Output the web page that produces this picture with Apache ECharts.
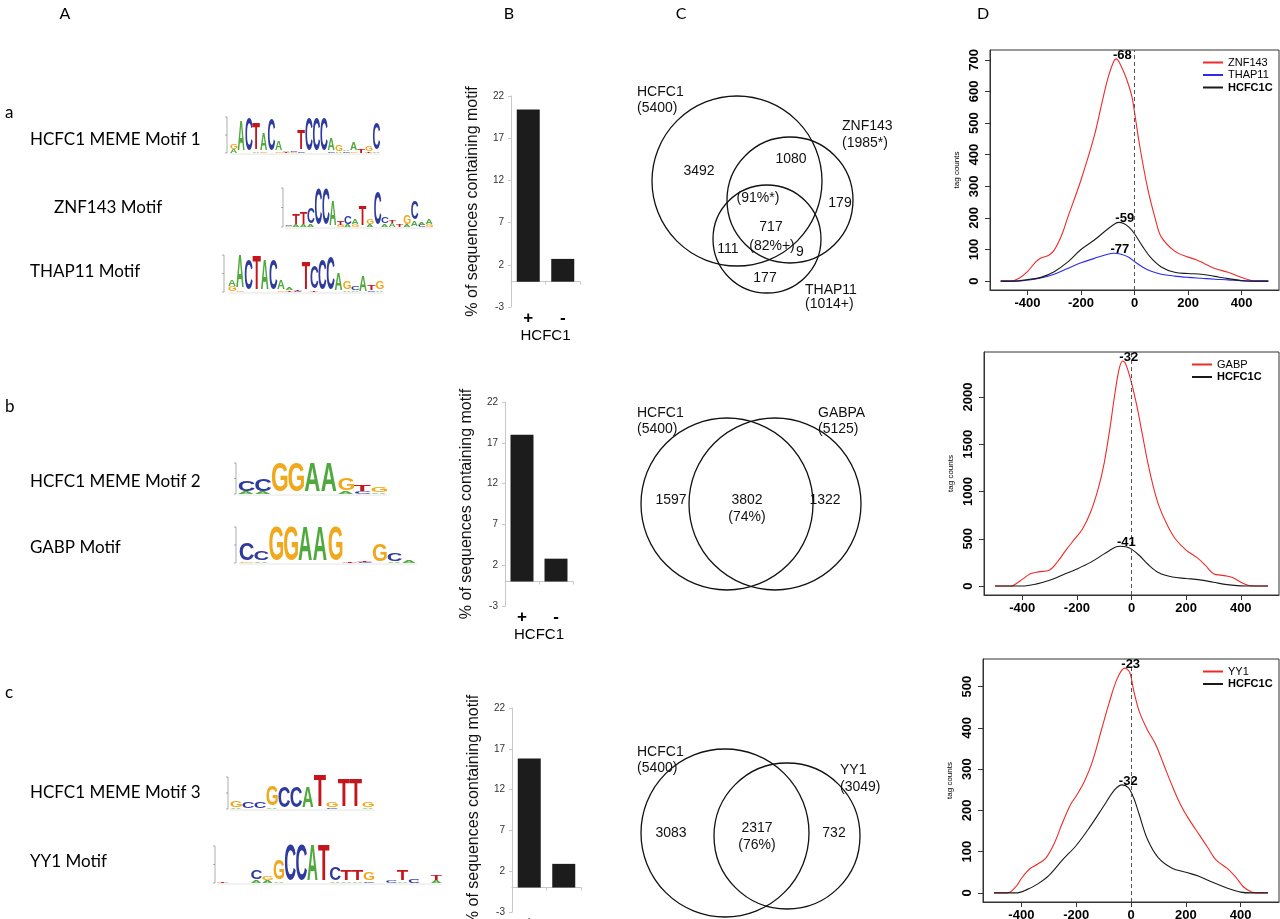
<!DOCTYPE html>
<html>
<head>
<meta charset="utf-8">
<script src="https://cdn.jsdelivr.net/npm/echarts@6/dist/echarts.min.js"></script>
<style>
html, body { margin: 0; padding: 0; background: #fff; }
#main { width: 1280px; height: 919px; }
</style>
</head>
<body>
<div id="main"></div>
<script>
// ---------- data ----------
// B: % of sequences containing motif, HCFC1 + / -
const barCats = ['+', '-'];
const barA = [20.4, 2.7];
const barB = [18.0, 2.8];
const barC = [15.8, 2.9];
const barTicks = [-3, 2, 7, 12, 17, 22];

// C: venn texts
const vennATexts = ['HCFC1', '(5400)', 'ZNF143', '(1985*)', 'THAP11', '(1014+)',
  '3492', '1080', '179', '(91%*)', '717', '(82%+)', '111', '9', '177'];
const vennBTexts = ['HCFC1', '(5400)', 'GABPA', '(5125)', '1597', '3802', '(74%)', '1322'];
const vennCTexts = ['HCFC1', '(5400)', 'YY1', '(3049)', '3083', '2317', '(76%)', '732'];

// D: tag count profiles, [position, tag counts]
const xTicks = [-400, -200, 0, 200, 400];
const ticksDA = [0, 100, 200, 300, 400, 500, 600, 700];
const ticksDB = [0, 500, 1000, 1500, 2000];
const ticksDC = [0, 100, 200, 300, 400, 500];

const znf143 = [[-500,0],[-460,0],[-430,10],[-400,30],[-370,60],[-350,73],[-320,82],[-300,98],[-270,150],[-250,200],[-200,320],[-150,460],[-120,570],[-100,640],[-80,690],[-68,703],[-50,680],[-30,640],[-10,585],[0,535],[20,425],[50,290],[80,190],[100,140],[150,95],[200,76],[230,68],[260,56],[300,40],[350,28],[380,18],[420,6],[450,0],[500,0]];
const thap11 = [[-500,0],[-450,0],[-400,3],[-350,10],[-300,22],[-250,40],[-200,58],[-150,72],[-100,85],[-77,88],[-50,85],[-20,75],[0,62],[30,45],[60,32],[100,22],[150,16],[200,12],[250,9],[300,6],[350,4],[400,1],[450,0],[500,0]];
const hcfcA = [[-500,0],[-450,0],[-400,5],[-350,12],[-300,30],[-250,60],[-200,100],[-150,130],[-100,165],[-70,183],[-59,186],[-40,182],[-20,170],[0,150],[30,110],[60,75],[100,45],[150,28],[200,24],[250,22],[300,15],[350,8],[400,2],[450,0],[500,0]];

const gabp = [[-500,0],[-440,0],[-420,30],[-400,70],[-370,130],[-340,150],[-300,170],[-270,260],[-240,380],[-210,490],[-180,600],[-150,780],[-120,1050],[-100,1300],[-80,1650],[-60,2050],[-45,2300],[-32,2380],[-20,2340],[0,2150],[20,1900],[40,1600],[60,1300],[80,1050],[100,850],[130,650],[160,500],[200,380],[240,300],[270,220],[300,130],[340,110],[370,90],[400,40],[430,5],[450,0],[500,0]];
const hcfcB = [[-500,0],[-400,0],[-350,20],[-300,60],[-250,120],[-200,180],[-150,250],[-100,340],[-60,410],[-41,420],[-20,415],[0,390],[30,320],[60,230],[100,140],[150,95],[200,80],[250,65],[300,40],[350,15],[400,2],[450,0],[500,0]];

const yy1 = [[-500,0],[-450,0],[-420,15],[-400,35],[-370,58],[-340,70],[-310,85],[-280,120],[-250,170],[-220,215],[-200,235],[-170,270],[-140,320],[-110,390],[-80,460],[-50,520],[-23,545],[-5,535],[10,490],[30,440],[60,395],[90,360],[120,310],[150,260],[180,215],[210,180],[250,140],[280,110],[310,80],[350,60],[380,40],[410,15],[440,2],[460,0],[500,0]];
const hcfcC = [[-500,0],[-420,0],[-380,8],[-340,22],[-300,42],[-250,80],[-200,115],[-150,160],[-100,210],[-60,250],[-32,262],[-10,255],[10,230],[30,190],[60,130],[100,85],[150,60],[200,50],[250,40],[300,25],[350,12],[400,2],[440,0],[500,0]];

// A: sequence logos, each column = [letter, bits] from bottom to top
const motif1 = [[['A',0.2],['G',0.3]],[['A',1.7]],[['C',1.85]],[['A',0.1],['T',1.5]],[['G',0.1],['A',1.0]],[['C',1.8]],[['G',0.1],['A',0.5]],[['T',0.05],['A',0.1]],[['G',0.05],['C',0.1]],[['C',0.1],['T',1.1]],[['C',1.9]],[['C',1.9]],[['C',1.85]],[['C',0.1],['A',0.65]],[['A',0.1],['G',0.35]],[['C',0.1],['A',0.1]],[['G',0.1],['A',0.45]],[['T',0.25]],[['T',0.1],['G',0.3]],[['A',0.1],['C',1.5]]];
const znfMotif = [[['G',0.05],['C',0.08]],[['A',0.1],['T',0.55]],[['A',0.1],['T',0.65]],[['A',0.15],['C',0.8]],[['C',1.85]],[['C',1.85]],[['A',1.3]],[['G',0.1],['T',0.2]],[['A',0.1],['C',0.4]],[['G',0.15],['A',0.25]],[['T',1.05]],[['A',0.1],['G',0.3]],[['C',1.75]],[['A',0.15],['C',0.35]],[['A',0.2],['T',0.15]],[['T',0.1]],[['A',0.1],['G',0.45]],[['A',0.3],['C',0.95]],[['C',0.1],['A',0.15]],[['G',0.1],['A',0.3]]];
const thapMotif = [[['G',0.3],['A',0.35]],[['G',0.1],['A',1.8]],[['C',1.7]],[['T',1.9]],[['A',1.7]],[['C',1.65]],[['G',0.1],['A',0.5]],[['T',0.08],['A',0.12]],[['C',0.06],['T',0.08]],[['T',1.55]],[['T',0.1],['C',1.2]],[['C',1.7]],[['C',1.8]],[['A',0.95]],[['A',0.1],['G',0.4]],[['A',0.1],['C',0.2]],[['A',0.85]],[['C',0.1],['T',0.3]],[['A',0.1],['G',0.45]]];
const motif2 = [[['A',0.15],['C',0.7]],[['A',0.15],['C',0.75]],[['G',1.9]],[['G',1.9]],[['A',1.9]],[['A',1.9]],[['A',0.2],['G',0.8]],[['C',0.15],['T',0.45]],[['A',0.1],['G',0.3]]];
const gabpMotif = [[['G',0.1],['C',0.95]],[['A',0.1],['C',0.5]],[['G',1.95]],[['G',1.95]],[['A',1.95]],[['A',1.95]],[['G',1.95]],[['T',0.08]],[['C',0.05],['T',0.08]],[['G',0.95]],[['A',0.05],['C',0.45]],[['A',0.15]]];
const motif3 = [[['A',0.1],['G',0.4]],[['C',0.45]],[['C',0.45]],[['A',0.1],['G',1.3]],[['C',1.35]],[['C',1.35]],[['A',1.35]],[['T',2.0]],[['C',0.1],['G',0.3]],[['T',1.8]],[['T',1.8]],[['A',0.1],['G',0.35]]];
const yy1Motif = [[['T',0.05]],[['G',0.03]],[['A',0.03]],[['A',0.15],['C',0.5]],[['A',0.15],['G',0.2]],[['A',0.1],['G',1.1]],[['C',1.95]],[['C',1.95]],[['A',1.95]],[['T',2.0]],[['A',0.1],['C',0.7]],[['A',0.1],['T',0.6]],[['A',0.1],['T',0.6]],[['C',0.1],['G',0.45]],[['T',0.03]],[['C',0.15]],[['A',0.1],['T',0.55]],[['C',0.2]],[['A',0.03]],[['A',0.15],['T',0.3]]];

// ---------- layout ----------
const vennACircles = [[737,181,85],[790,200,63],[767,239,54]];
const vennBCircles = [[727,504,86],[775,504,86]];
const vennCCircles = [[725,833,84],[787,836,73]];
const vennAPos = [[637,92,'left'],[637,108,'left'],[842,126,'left'],[842,143,'left'],[805,290,'left'],[805,304,'left'],
  [699,171],[791,159],[840,203],[758,198],[771,227],[772,246],[728,249],[800,252],[765,278]];
const vennBPos = [[637,413,'left'],[637,429,'left'],[818,413,'left'],[818,429,'left'],[671,500],[747,500],[747,517],[825,500]];
const vennCPos = [[637,752,'left'],[637,768,'left'],[840,770,'left'],[840,787,'left'],[671,833],[757,828],[757,845],[834,833]];

const NARROW = '"Liberation Sans Narrow", "Liberation Sans", Arial';
const SANS = '"Liberation Sans", Arial';
const HUMAN = 'Lato, "Open Sans", sans-serif';

const LETTER_COLORS = { A: '#4fa93c', C: '#2e3a9c', G: '#f0a81c', T: '#c4161c' };
const INK = { A: 0.70, C: 0.64, G: 0.68, T: 0.56 };

function txt(s, x, y, font, align, color) {
  return {
    type: 'text', x: x, y: y, silent: true,
    style: { text: s, fill: color || '#000', font: font, align: align || 'center', textAlign: align || 'center',
      verticalAlign: 'middle', textVerticalAlign: 'middle' }
  };
}

function logoEls(cols, x0, base, colW, ppb, axisX) {
  const els = [];
  const F = 40;
  cols.forEach((col, i) => {
    let y = base;
    col.forEach(([ch, bits]) => {
      const h = bits * ppb;
      if (h >= 0.6) {
        const sy = h / (0.729 * F);
        const sx = (colW * 0.94) / (INK[ch] * F);
        els.push({
          type: 'text', silent: true,
          x: x0 + i * colW + colW * 0.03 - 0.03 * F * sx,
          y: y - h / 2 + 0.02 * F * sy,
          scaleX: sx, scaleY: sy,
          style: { text: ch, fill: LETTER_COLORS[ch], font: 'bold 40px ' + SANS,
            align: 'left', textAlign: 'left', verticalAlign: 'middle', textVerticalAlign: 'middle' }
        });
      }
      y -= h;
    });
  });
  els.push({ type: 'line', silent: true, shape: { x1: axisX, y1: base, x2: axisX, y2: base - 2 * ppb }, style: { stroke: '#777', lineWidth: 0.6 } });
  [0, 1, 2].forEach(b => els.push({ type: 'line', silent: true,
    shape: { x1: axisX - 2, y1: base - b * ppb, x2: axisX, y2: base - b * ppb }, style: { stroke: '#777', lineWidth: 0.6 } }));
  els.push({ type: 'line', silent: true, shape: { x1: x0, y1: base + 1, x2: x0 + cols.length * colW, y2: base + 1 }, style: { stroke: '#ddd', lineWidth: 0.8 } });
  return els;
}

function vennTextEls(texts, pos, size) {
  return texts.map((t, i) => txt(t, pos[i][0], pos[i][1], size + 'px ' + SANS, pos[i][2] || 'center', '#111'));
}

function peakMark(data) {
  let best = data[0];
  data.forEach(d => { if (d[1] > best[1]) best = d; });
  return {
    symbol: 'circle', symbolSize: 0, silent: true, animation: false,
    label: { show: true, position: 'top', distance: 0, offset: [6, 3], formatter: String(best[0]),
      color: '#000', fontFamily: NARROW, fontWeight: 'bold', fontSize: 13 },
    data: [{ coord: [best[0], best[1]] }]
  };
}

const zeroLine = {
  symbol: 'none', silent: true, animation: false, label: { show: false },
  lineStyle: { type: [4, 3], color: '#555', width: 1 },
  data: [{ xAxis: 0 }]
};

function lineSeries(name, data, color, idx, withZero) {
  const s = {
    type: 'line', name: name, data: data, xAxisIndex: idx, yAxisIndex: idx,
    showSymbol: false, smooth: 0.35, lineStyle: { color: color, width: 1.1 }, itemStyle: { color: color },
    markPoint: peakMark(data), silent: true
  };
  if (withZero) s.markLine = zeroLine;
  return s;
}

// bar axes
const barGrids = [
  { left: 511, top: 96, width: 69, height: 211 },
  { left: 505, top: 402, width: 68, height: 204 },
  { left: 512, top: 708, width: 69, height: 204 }
];
function barX(i) {
  return {
    type: 'category', gridIndex: i, data: barCats,
    axisLine: { show: true, onZero: true, onZeroAxisIndex: i, lineStyle: { color: '#c8c8c8' } },
    axisTick: { show: true, length: 3, lineStyle: { color: '#c8c8c8' } },
    axisLabel: { color: '#000', fontSize: 17, fontWeight: 'bold', fontFamily: SANS, margin: 3 },
    name: 'HCFC1', nameLocation: 'middle', nameGap: 19,
    nameTextStyle: { color: '#000', fontSize: 15, fontFamily: SANS }
  };
}
function barY(i) {
  return {
    type: 'value', gridIndex: i, min: -3, max: 22,
    axisLine: { show: true, lineStyle: { color: '#c8c8c8' } },
    axisTick: { show: true, length: 3, customValues: barTicks, lineStyle: { color: '#c8c8c8' } },
    axisLabel: { customValues: barTicks, color: '#333', fontSize: 10, fontFamily: SANS, margin: 7 },
    splitLine: { show: false },
    name: '% of sequences containing motif', nameLocation: 'middle', nameGap: 30, nameRotate: 90,
    nameTextStyle: { color: '#111', fontSize: 16, fontFamily: SANS }
  };
}

// profile axes
const profGrids = [
  { left: 990, top: 50, width: 289, height: 240 },
  { left: 984, top: 352, width: 295, height: 243 },
  { left: 983, top: 659, width: 296, height: 243 }
];
const profY = [[-28, 731, ticksDA], [-95, 2476, ticksDB], [-22, 567, ticksDC]];
function profX(i) {
  return {
    type: 'value', gridIndex: i, min: -540, max: 540,
    axisLine: { show: true, onZero: false, lineStyle: { color: '#333' } },
    axisTick: { show: true, length: 5, customValues: xTicks, lineStyle: { color: '#333' } },
    axisLabel: { customValues: xTicks, formatter: v => String(v), color: '#000', fontFamily: NARROW, fontWeight: 'bold', fontSize: 13, margin: 7 },
    splitLine: { show: false }
  };
}
function profYAxis(i, r) {
  return {
    type: 'value', gridIndex: i, min: r[0], max: r[1],
    axisLine: { show: true, onZero: false, lineStyle: { color: '#333' } },
    axisTick: { show: true, length: 5, customValues: r[2], lineStyle: { color: '#333' } },
    axisLabel: { customValues: r[2], formatter: v => String(v), rotate: 90, color: '#000', fontFamily: NARROW, fontWeight: 'bold', fontSize: 13, margin: 9 },
    splitLine: { show: false },
    name: 'tag counts', nameLocation: 'middle', nameRotate: 90, nameGap: 29,
    nameTextStyle: { color: '#000', fontSize: 8, fontFamily: SANS }
  };
}

const grids = barGrids.concat(profGrids.map(g => Object.assign({ show: true, borderColor: '#333', borderWidth: 1, backgroundColor: 'transparent' }, g)))
  .concat([{ left: 0, top: 0, width: 1280, height: 919 }])
  .map(g => Object.assign({ containLabel: false, outerBoundsMode: 'none' }, g));

const xAxes = [barX(0), barX(1), barX(2), profX(3), profX(4), profX(5),
  { type: 'value', gridIndex: 6, min: 0, max: 1280, show: false }];
const yAxes = [barY(0), barY(1), barY(2), profYAxis(3, profY[0]), profYAxis(4, profY[1]), profYAxis(5, profY[2]),
  { type: 'value', gridIndex: 6, min: 0, max: 919, inverse: true, show: false }];

function barSeries(data, i, w) {
  return { type: 'bar', data: data, xAxisIndex: i, yAxisIndex: i, barWidth: w, silent: true,
    itemStyle: { color: '#1c1c1c' } };
}

const vennSeries = {
  type: 'scatter', xAxisIndex: 6, yAxisIndex: 6, silent: true, z: 2,
  data: vennACircles.concat(vennBCircles, vennCCircles),
  symbolSize: v => v[2] * 2,
  itemStyle: { color: 'rgba(0,0,0,0)', borderColor: '#111', borderWidth: 1.3, opacity: 1 }
};

const legendText = { fontSize: 11, fontFamily: NARROW, color: '#000' };
function legend(names, left, top) {
  return {
    data: names.map(n => n === 'HCFC1C' ? { name: n, textStyle: { fontWeight: 'bold' } } : n),
    orient: 'vertical', left: left, top: top, itemWidth: 20, itemHeight: 2, itemGap: 1.5,
    icon: 'rect', textStyle: legendText, selectedMode: false, padding: 0
  };
}

const graphics = [
  txt('A', 65, 14, '16px ' + HUMAN), txt('B', 509, 14, '16px ' + HUMAN),
  txt('C', 681, 14, '16px ' + HUMAN), txt('D', 983, 14, '16px ' + HUMAN),
  txt('a', 5, 113, '17px ' + HUMAN, 'left'), txt('b', 5, 407, '17px ' + HUMAN, 'left'),
  txt('c', 5, 693, '17px ' + HUMAN, 'left'),
  txt('HCFC1 MEME Motif 1', 30, 140, '17px ' + HUMAN, 'left'),
  txt('ZNF143 Motif', 54, 208, '17px ' + HUMAN, 'left'),
  txt('THAP11 Motif', 30, 272, '17px ' + HUMAN, 'left'),
  txt('HCFC1 MEME Motif 2', 30, 482, '17px ' + HUMAN, 'left'),
  txt('GABP Motif', 30, 548, '17px ' + HUMAN, 'left'),
  txt('HCFC1 MEME Motif 3', 30, 793, '17px ' + HUMAN, 'left'),
  txt('YY1 Motif', 30, 862, '17px ' + HUMAN, 'left')
].concat(
  logoEls(motif1, 230, 153, 7.5, 18, 227),
  logoEls(znfMotif, 285, 227, 7.4, 19.5, 283),
  logoEls(thapMotif, 228, 292, 8.2, 18.5, 224),
  logoEls(motif2, 238, 494, 16.6, 15.5, 236),
  logoEls(gabpMotif, 239, 563, 14.8, 18, 236),
  logoEls(motif3, 230, 809, 12, 16, 228),
  logoEls(yy1Motif, 217, 883, 11.25, 18.5, 215),
  vennTextEls(vennATexts, vennAPos, 14),
  vennTextEls(vennBTexts, vennBPos, 14),
  vennTextEls(vennCTexts, vennCPos, 14)
);

const chart = echarts.init(document.getElementById('main'), null, { renderer: 'canvas' });
chart.setOption({
  animation: false,
  backgroundColor: '#fff',
  grid: grids,
  xAxis: xAxes,
  yAxis: yAxes,
  legend: [
    legend(['ZNF143', 'THAP11', 'HCFC1C'], 1203, 57),
    legend(['GABP', 'HCFC1C'], 1192, 359),
    legend(['YY1', 'HCFC1C'], 1203, 666)
  ],
  series: [
    barSeries(barA, 0, 23), barSeries(barB, 1, 23), barSeries(barC, 2, 23),
    lineSeries('ZNF143', znf143, '#ee2a2a', 3, true),
    lineSeries('THAP11', thap11, '#2b2bf0', 3, false),
    lineSeries('HCFC1C', hcfcA, '#1a1a1a', 3, false),
    lineSeries('GABP', gabp, '#ee2a2a', 4, true),
    lineSeries('HCFC1C', hcfcB, '#1a1a1a', 4, false),
    lineSeries('YY1', yy1, '#ee2a2a', 5, true),
    lineSeries('HCFC1C', hcfcC, '#1a1a1a', 5, false),
    vennSeries
  ],
  graphic: { elements: graphics }
});
</script>
</body>
</html>
